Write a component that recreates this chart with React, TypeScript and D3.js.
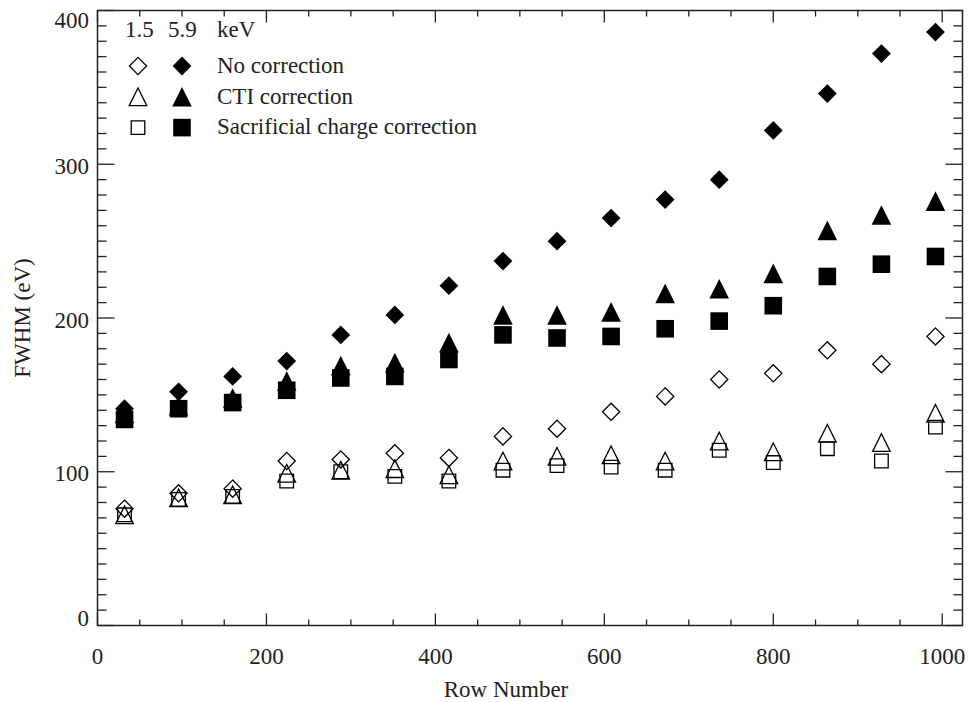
import * as d3 from "d3";

const W = 969;
const H = 702;
const PLOT = { left: 97.5, right: 962.5, top: 10.5, bottom: 625.5 };

// Row numbers of the measured bins
const rows = [32, 96, 160, 224, 288, 352, 416, 480, 544, 608, 672, 736, 800, 864, 928, 992];

// 5.9 keV (filled symbols)
const noCorr59 = [141, 152, 162, 172, 189, 202, 221, 237, 250, 265, 277, 290, 322, 346, 372, 386];
const cti59 = [138, 143, 148, 159, 169, 171, 184, 202, 202, 204, 216, 219, 229, 257, 267, 276];
const sac59 = [134, 141, 145, 153, 161, 162, 173, 189, 187, 188, 193, 198, 208, 227, 235, 240];

// 1.5 keV (open symbols)
const noCorr15 = [76, 86, 89, 107, 108, 112, 109, 123, 128, 139, 149, 160, 164, 179, 170, 188];
const cti15 = [72, 83, 85, 99, 101, 102, 98, 107, 110, 111, 107, 120, 113, 125, 119, 138];
const sac15 = [72, 82, 84, 94, 100, 97, 94, 101, 104, 103, 101, 114, 106, 115, 107, 129];

const xMajor = [0, 200, 400, 600, 800, 1000];
const yMajor = [0, 100, 200, 300, 400];
const legendRows = ["No correction", "CTI correction", "Sacrificial charge correction"];

type Shape = "diamond" | "triangle" | "square";

const shapePath = (shape: Shape, cx: number, cy: number, r: number) => {
  const p = d3.path();
  if (shape === "diamond") {
    p.moveTo(cx, cy - r);
    p.lineTo(cx + r, cy);
    p.lineTo(cx, cy + r);
    p.lineTo(cx - r, cy);
  } else if (shape === "triangle") {
    p.moveTo(cx, cy - r);
    p.lineTo(cx + r, cy + r);
    p.lineTo(cx - r, cy + r);
  } else {
    p.rect(cx - r, cy - r, 2 * r, 2 * r);
  }
  p.closePath();
  return p.toString();
};

const FONT = "'Liberation Serif', 'Times New Roman', serif";

export default function App() {
  const x = d3.scaleLinear().domain([0, 1024]).range([PLOT.left, PLOT.right]);
  const y = d3.scaleLinear().domain([0, 400]).range([PLOT.bottom, PLOT.top]);

  const xMinor = d3.range(0, 1024, 50);
  const yMinor = d3.range(0, 401, 10);

  const filled: [number[], Shape, number][] = [
    [noCorr59, "diamond", 9.4],
    [cti59, "triangle", 9.8],
    [sac59, "square", 8.8],
  ];
  const open: [number[], Shape, number][] = [
    [noCorr15, "diamond", 8.6],
    [cti15, "triangle", 8.8],
    [sac15, "square", 6.8],
  ];

  const labelY = (v: number) =>
    Math.min(Math.max(y(v) + 2, PLOT.top + 10), PLOT.bottom - 7);

  return (
    <svg
      width={W}
      height={H}
      style={{ position: "absolute", left: 0, top: 0, background: "#fff" }}
      fontFamily={FONT}
    >
      <rect width={W} height={H} fill="#fff" />

      {/* markers */}
      {filled.map(([vals, shape, r], si) =>
        vals.map((v, i) => (
          <path key={`f${si}-${i}`} d={shapePath(shape, x(rows[i]), y(v), r)} fill="#000" />
        ))
      )}
      {open.map(([vals, shape, r], si) =>
        vals.map((v, i) => (
          <path
            key={`o${si}-${i}`}
            d={shapePath(shape, x(rows[i]), y(v), r)}
            fill="none"
            stroke="#000"
            strokeWidth={1.3}
          />
        ))
      )}

      {/* frame */}
      <rect
        x={PLOT.left}
        y={PLOT.top}
        width={PLOT.right - PLOT.left}
        height={PLOT.bottom - PLOT.top}
        fill="none"
        stroke="#222"
        strokeWidth={1.5}
      />

      {/* x ticks, bottom and top */}
      {xMinor.map((t) => {
        const len = t % 200 === 0 ? 12 : 6;
        return (
          <g key={`xt${t}`} stroke="#222" strokeWidth={1.3}>
            <line x1={x(t)} x2={x(t)} y1={PLOT.bottom} y2={PLOT.bottom - len} />
            <line x1={x(t)} x2={x(t)} y1={PLOT.top} y2={PLOT.top + len} />
          </g>
        );
      })}
      {/* y ticks, left and right */}
      {yMinor.map((t) => {
        const len = t % 100 === 0 ? 17 : 9;
        return (
          <g key={`yt${t}`} stroke="#222" strokeWidth={1.3}>
            <line x1={PLOT.left} x2={PLOT.left + len} y1={y(t)} y2={y(t)} />
            <line x1={PLOT.right} x2={PLOT.right - len} y1={y(t)} y2={y(t)} />
          </g>
        );
      })}

      {/* tick labels */}
      {xMajor.map((t) => (
        <text key={`xl${t}`} x={x(t)} y={664} textAnchor="middle" fontSize={23} fill="#222">
          {t}
        </text>
      ))}
      {yMajor.map((t) => (
        <text
          key={`yl${t}`}
          x={89}
          y={labelY(t)}
          textAnchor="end"
          dominantBaseline="central"
          fontSize={23}
          fill="#222"
        >
          {t}
        </text>
      ))}

      {/* axis titles */}
      <text x={506} y={697} textAnchor="middle" fontSize={23} fill="#222">
        Row Number
      </text>
      <text
        transform={`translate(30,318) rotate(-90)`}
        textAnchor="middle"
        fontSize={23}
        fill="#222"
      >
        FWHM (eV)
      </text>

      {/* legend */}
      <g fill="#222" fontSize={23}>
        <text x={125} y={37}>1.5</text>
        <text x={168} y={37}>5.9</text>
        <text x={217} y={37}>keV</text>
        {legendRows.map((label, i) => (
          <text key={label} x={217} y={73 + i * 30.5}>
            {label}
          </text>
        ))}
      </g>
      {open.map(([, shape, r], i) => (
        <path
          key={`lo${i}`}
          d={shapePath(shape, 138, 66 + i * 30.8, r)}
          fill="none"
          stroke="#000"
          strokeWidth={1.3}
        />
      ))}
      {filled.map(([, shape, r], i) => (
        <path key={`lf${i}`} d={shapePath(shape, 182, 66 + i * 30.8, r)} fill="#000" />
      ))}
    </svg>
  );
}
